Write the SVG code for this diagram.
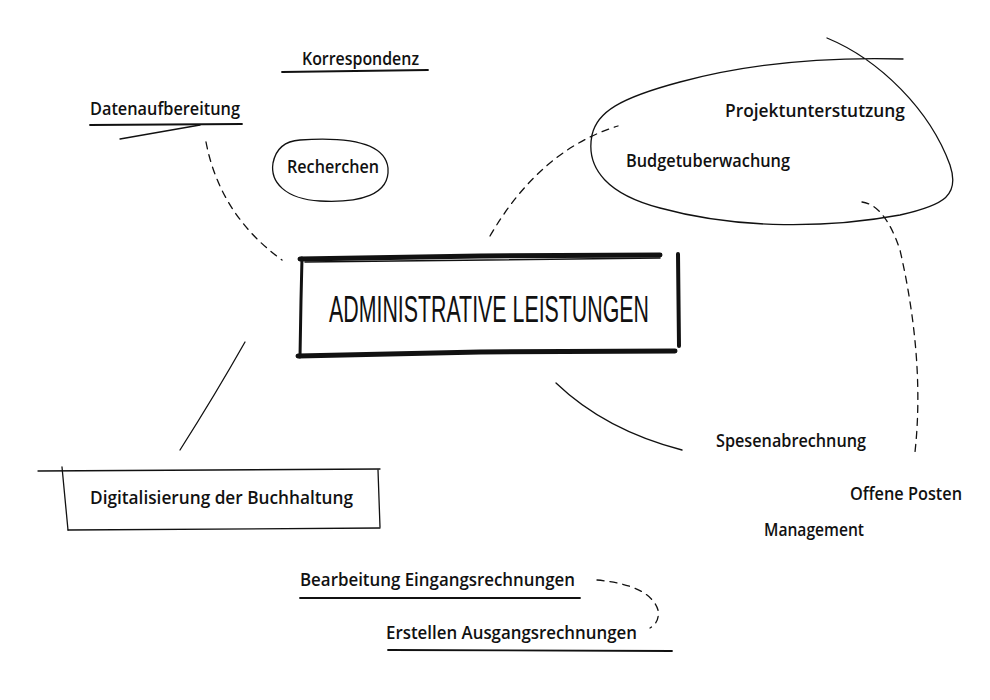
<svg xmlns="http://www.w3.org/2000/svg" width="990" height="700" viewBox="0 0 990 700">
<style>
.t{font-family:"Open Sans","Liberation Sans",sans-serif;font-weight:600;font-size:18px;fill:#111}
.ln{fill:none;stroke:#111;stroke-width:1.3;stroke-linecap:round}
.ds{fill:none;stroke:#111;stroke-width:1.3;stroke-dasharray:7 6;stroke-linecap:round}
.ul{fill:none;stroke:#111;stroke-width:1.8;stroke-linecap:round}
.br{fill:none;stroke:#111;stroke-linecap:round;stroke-linejoin:round}
</style>
<rect width="990" height="700" fill="#fff"/>
<g id="connectors">
<path class="ds" d="M206,142 Q220,215 282,260"/>
<path class="ds" d="M490,236 Q540,150 618,126"/>
<path class="ds" d="M862,202 Q885,205 900,250 Q925,360 915,452"/>
<path class="ln" d="M245,342 Q215,395 180,450"/>
<path class="ln" d="M556,383 Q605,430 682,450"/>
<path class="ds" d="M597,580 Q650,585 658,610 Q660,622 650,628"/>
</g>
<g id="center">
<path class="br" stroke-width="5" d="M300,259 L480,256 L660,255"/>
<path class="br" stroke-width="3" d="M302,258 L301,300 L300,357"/>
<path class="br" stroke-width="5" d="M298,356 L480,352 L675,351"/>
<path class="br" stroke-width="4" d="M678,254 L679,346"/>
<path class="br" stroke-width="1.5" d="M305,262 L660,258"/>
<text x="489" y="322" text-anchor="middle" font-family="Liberation Sans Narrow,Liberation Sans,sans-serif" font-size="36" fill="#111" textLength="320" lengthAdjust="spacingAndGlyphs">ADMINISTRATIVE LEISTUNGEN</text>
</g>
<g id="korrespondenz">
<text class="t" x="302" y="65" textLength="117" lengthAdjust="spacingAndGlyphs">Korrespondenz</text>
<path class="ul" d="M282,72 L428,70"/>
</g>
<g id="datenaufbereitung">
<text class="t" x="90" y="115" textLength="150" lengthAdjust="spacingAndGlyphs">Datenaufbereitung</text>
<path class="ul" d="M90,125 L242,124"/>
<path class="ln" d="M120,139 L200,125"/>
</g>
<g id="recherchen">
<path class="ln" d="M300,140 C345,137 385,142 388,168 C390,195 360,203 320,201 C285,199 270,182 273,163 C276,148 285,141 300,140 Z"/>
<text class="t" x="333" y="173" text-anchor="middle" textLength="92" lengthAdjust="spacingAndGlyphs">Recherchen</text>
</g>
<g id="projekt">
<path class="ln" d="M827,38 C880,60 930,110 950,165 C960,195 945,205 900,215 C830,228 740,230 660,208 C610,195 585,170 592,135 C597,112 620,98 680,82 C750,63 830,57 903,59"/>
<text class="t" x="725" y="117" textLength="180" lengthAdjust="spacingAndGlyphs">Projektunterstutzung</text>
<text class="t" x="626" y="167" textLength="164" lengthAdjust="spacingAndGlyphs">Budgetuberwachung</text>
</g>
<g id="spesen">
<text class="t" x="716" y="447" textLength="150" lengthAdjust="spacingAndGlyphs">Spesenabrechnung</text>
</g>
<g id="offene">
<text class="t" x="850" y="500" textLength="112" lengthAdjust="spacingAndGlyphs">Offene Posten</text>
<text class="t" x="764" y="536" textLength="100" lengthAdjust="spacingAndGlyphs">Management</text>
</g>
<g id="digital">
<path class="ln" d="M38,471 L380,469"/>
<path class="ln" d="M62,467 L68,530"/>
<path class="ln" d="M378,470 L380,527"/>
<path class="ln" d="M68,530 L380,528"/>
<text class="t" x="90" y="504" textLength="263" lengthAdjust="spacingAndGlyphs">Digitalisierung der Buchhaltung</text>
</g>
<g id="eingang">
<text class="t" x="300" y="586" textLength="275" lengthAdjust="spacingAndGlyphs">Bearbeitung Eingangsrechnungen</text>
<path class="ul" d="M300,598 L580,598"/>
</g>
<g id="ausgang">
<text class="t" x="386" y="639" textLength="251" lengthAdjust="spacingAndGlyphs">Erstellen Ausgangsrechnungen</text>
<path class="ul" d="M388,650 L672,651"/>
</g>
</svg>
